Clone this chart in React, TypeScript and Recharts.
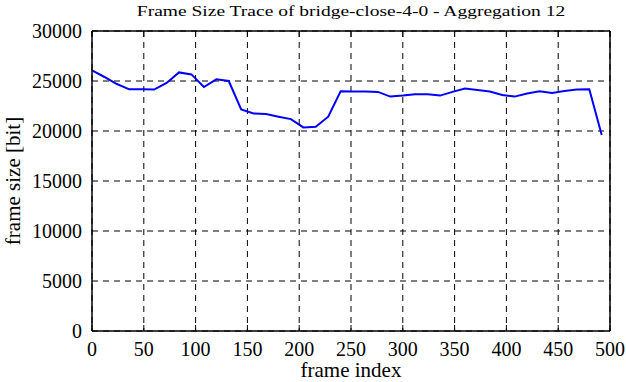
import { CartesianGrid, Line, LineChart, XAxis, YAxis } from 'recharts';

const frames = [
  0, 12, 24, 36, 48, 60, 72, 84, 96, 108, 120, 132, 144, 156, 168, 180, 192, 204, 216, 228, 240,
  252, 264, 276, 288, 300, 312, 324, 336, 348, 360, 372, 384, 396, 408, 420, 432, 444, 456, 468,
  480, 492,
];
const frameSizes = [
  26060, 25400, 24700, 24170, 24170, 24140, 24800, 25860, 25660, 24400, 25170, 25000, 22150, 21760,
  21690, 21430, 21190, 20360, 20430, 21430, 23970, 23940, 23940, 23910, 23440, 23540, 23680, 23680,
  23540, 23910, 24240, 24100, 23940, 23610, 23440, 23740, 23970, 23800, 24000, 24140, 24170, 19600,
];
const xTicks = [0, 50, 100, 150, 200, 250, 300, 350, 400, 450, 500];
const yTicks = [0, 5000, 10000, 15000, 20000, 25000, 30000];

const data = frames.map((frame, i) => ({ frame, size: frameSizes[i] }));

const FONT = '"Liberation Serif", "Times New Roman", serif';
const noTick = () => null;

function XTick({ x, y, payload }: any) {
  return (
    <text x={x} y={y + 14} textAnchor="middle" fontFamily={FONT} fontSize={20} fill="#000">
      {payload.value}
    </text>
  );
}

function YTick({ x, y, payload }: any) {
  return (
    <text x={x} y={y + 7} textAnchor="end" fontFamily={FONT} fontSize={20} fill="#000">
      {payload.value}
    </text>
  );
}

function XLabel({ viewBox }: any) {
  const cx = viewBox.x + viewBox.width / 2;
  return (
    <text x={cx} y={377} textAnchor="middle" fontFamily={FONT} fontSize={21} fill="#000">
      frame index
    </text>
  );
}

function YLabel({ viewBox }: any) {
  const cx = 13;
  const cy = viewBox.y + viewBox.height / 2;
  return (
    <text
      x={cx}
      y={cy}
      transform={`rotate(-90 ${cx} ${cy})`}
      textAnchor="middle"
      dominantBaseline="central"
      fontFamily={FONT}
      fontSize={21}
      fill="#000"
    >
      frame size [bit]
    </text>
  );
}

export default function App() {
  return (
    <div
      style={{
        position: 'absolute',
        left: 0,
        top: 0,
        width: 626,
        height: 382,
        background: '#fff',
        fontFamily: FONT,
      }}
    >
      <div
        style={{
          position: 'absolute',
          left: 0,
          width: 702,
          top: -1,
          textAlign: 'center',
          fontSize: 19.5,
          lineHeight: '20px',
          whiteSpace: 'nowrap',
          transform: 'scaleY(0.78)',
          transformOrigin: '0 100%',
        }}
      >
        Frame Size Trace of bridge-close-4-0 - Aggregation 12
      </div>
      <LineChart width={626} height={382} data={data} margin={{ top: 31, right: 16, bottom: 0, left: 0 }}>
        <CartesianGrid stroke="#000" strokeDasharray="6 5" />
        <XAxis
          dataKey="frame"
          type="number"
          domain={[0, 500]}
          ticks={xTicks}
          height={51}
          tick={<XTick />}
          tickLine={false}
          tickMargin={5}
          axisLine={{ stroke: '#000', strokeWidth: 1.5 }}
          label={<XLabel />}
        />
        <XAxis
          xAxisId="top"
          orientation="top"
          mirror
          dataKey="frame"
          type="number"
          domain={[0, 500]}
          ticks={xTicks}
          tick={noTick}
          tickLine={{ stroke: '#000' }}
          axisLine={{ stroke: '#000', strokeWidth: 1.5 }}
        />
        <XAxis
          xAxisId="bottomIn"
          orientation="bottom"
          mirror
          dataKey="frame"
          type="number"
          domain={[0, 500]}
          ticks={xTicks}
          tick={noTick}
          tickLine={{ stroke: '#000' }}
          axisLine={false}
        />
        <YAxis
          type="number"
          domain={[0, 30000]}
          ticks={yTicks}
          width={92}
          tick={<YTick />}
          tickLine={false}
          tickMargin={4}
          axisLine={{ stroke: '#000', strokeWidth: 1.5 }}
          label={<YLabel />}
        />
        <YAxis
          yAxisId="right"
          orientation="right"
          mirror
          type="number"
          domain={[0, 30000]}
          ticks={yTicks}
          tick={noTick}
          tickLine={{ stroke: '#000' }}
          axisLine={{ stroke: '#000', strokeWidth: 1.5 }}
        />
        <YAxis
          yAxisId="leftIn"
          orientation="left"
          mirror
          type="number"
          domain={[0, 30000]}
          ticks={yTicks}
          tick={noTick}
          tickLine={{ stroke: '#000' }}
          axisLine={false}
        />
        <Line
          dataKey="size"
          type="linear"
          stroke="#0000ff"
          strokeWidth={2}
          dot={false}
          isAnimationActive={false}
        />
      </LineChart>
    </div>
  );
}
